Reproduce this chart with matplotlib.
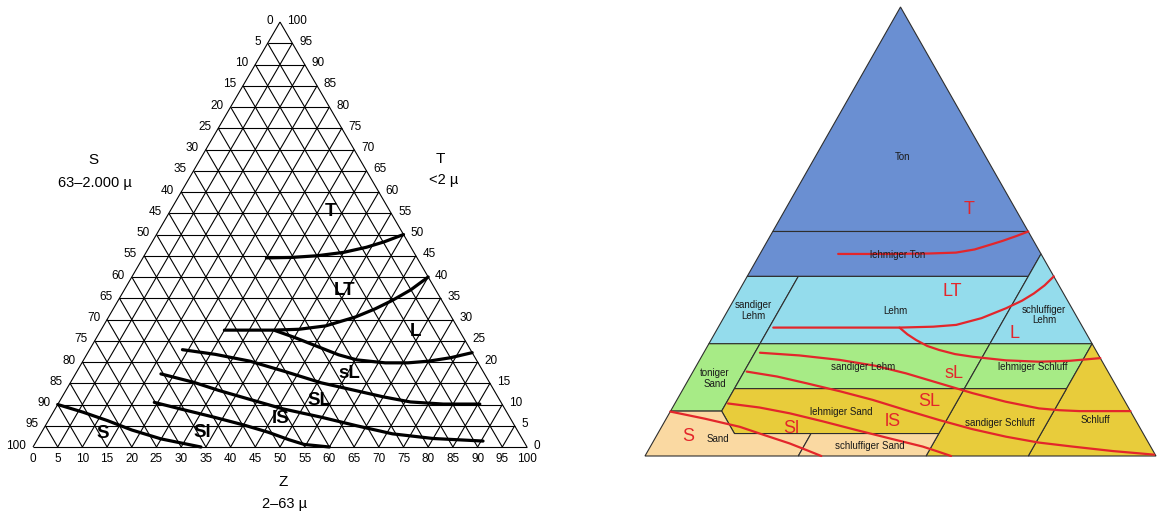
import numpy as np
import matplotlib
matplotlib.use('Agg')
import matplotlib.pyplot as plt
from matplotlib.patches import Polygon

plt.rcParams['font.family'] = ['Liberation Sans', 'DejaVu Sans']

# ---------------- DATA (ternary coords: z = Schluff %, t = Ton %) ----------------
TICKS = list(range(0, 101, 5))

# left triangle: black class boundaries
CURVE_T_LT = [(25, 44.5), (30, 44.6), (35, 45), (40, 45.8), (44, 47), (47, 48.3), (50, 50)]
CURVE_LT_L = [(25, 27.5), (30, 27.5), (35, 27.5), (40, 27.7), (45, 28.5), (50, 30.6),
              (53, 32.5), (55.5, 34.5), (58, 37), (60, 40)]
CURVE_L_SL = [(35.3, 27.4), (40, 25.8), (46.7, 23.3), (51, 21.7), (55.3, 20.5), (61.4, 19.8),
              (66, 19.8), (70, 20.2), (74, 21), (77.8, 22.2)]
CURVE_SL_SL2 = [(18.8, 22.9), (26, 21.8), (33.8, 20.2), (42, 17.8), (50.8, 15.1), (59, 13.2),
                (65, 11.8), (71.1, 10.6), (78, 10.1), (85.4, 10.1)]
CURVE_SL_LS = [(17.3, 17.2), (25, 15.2), (31, 13.3), (38.3, 11.2), (46, 9), (54.9, 7),
               (63, 5), (71.2, 3.1), (80, 2), (90.4, 1.4)]
CURVE_LS_SL = [(19.3, 10.5), (26, 8.8), (33.2, 7), (40, 5.2), (45.8, 3.5), (51, 1.7),
               (54.6, 0.6), (60, 0)]
CURVE_SL_S = [(0, 10), (6, 8.2), (12, 6.2), (18, 4), (25, 1.9), (34, 0)]
LEFT_CURVES = [CURVE_T_LT, CURVE_LT_L, CURVE_L_SL, CURVE_SL_SL2, CURVE_SL_LS, CURVE_LS_SL, CURVE_SL_S]

LEFT_LABELS = ['T', 'LT', 'L', 'sL', 'SL', 'lS', 'Sl', 'S']
LEFT_LABEL_POS = [(32.5, 55.5), (44.6, 36.8), (63.9, 27.1), (55.4, 17.4), (52.6, 10.9),
                  (46.8, 6.6), (32.5, 3.5), (12.5, 3.1)]

# right triangle: coloured fields
FIELDS = {
    'Ton': [(0, 50), (50, 50), (0, 100)],
    'lehmiger Ton': [(0, 40), (55, 40), (55, 45), (50, 50), (0, 50)],
    'sandiger Lehm 1': [(0, 25), (10, 25), (10, 40), (0, 40)],
    'Lehm': [(10, 25), (55, 25), (55, 40), (10, 40)],
    'schluffiger Lehm': [(55, 25), (75, 25), (55, 45)],
    'toniger Sand': [(0, 10), (10, 10), (10, 25), (0, 25)],
    'sandiger Lehm 2': [(10, 15), (55, 15), (55, 25), (10, 25)],
    'lehmiger Schluff': [(55, 15), (75, 15), (75, 25), (55, 25)],
    'Schluff': [(75, 0), (100, 0), (75, 25)],
    'sandiger Schluff': [(55, 0), (75, 0), (75, 15), (55, 15)],
    'lehmiger Sand': [(15, 5), (55, 5), (55, 15), (10, 15), (10, 10)],
    'Sand': [(0, 0), (30, 0), (30, 5), (15, 5), (10, 10), (0, 10)],
    'schluffiger Sand': [(30, 0), (55, 0), (55, 5), (30, 5)],
}
FIELD_GROUP = {
    'Ton': 'T', 'lehmiger Ton': 'T',
    'sandiger Lehm 1': 'L', 'Lehm': 'L', 'schluffiger Lehm': 'L',
    'toniger Sand': 'G', 'sandiger Lehm 2': 'G', 'lehmiger Schluff': 'G',
    'Schluff': 'Y', 'sandiger Schluff': 'Y', 'lehmiger Sand': 'Y',
    'Sand': 'P', 'schluffiger Sand': 'P',
}
FIELD_TEXT = ['Ton', 'lehmiger Ton', 'sandiger\nLehm', 'Lehm', 'schluffiger\nLehm',
              'toniger\nSand', 'sandiger Lehm', 'lehmiger Schluff', 'lehmiger Sand',
              'sandiger Schluff', 'Schluff', 'Sand', 'schluffiger Sand']
FIELD_TEXT_POS = [(17.2, 66.5), (27.1, 44.8), (5.0, 32.4), (32.8, 32.4), (62.4, 31.4),
                  (5.0, 17.3), (32.7, 19.9), (65.9, 19.9), (33.5, 9.9),
                  (65.7, 7.3), (84.2, 8.0), (12.5, 3.7), (42.8, 2.2)]

# right triangle: red class boundaries
R_T_LT = [(15.3, 45), (25, 45), (33, 45.1), (38.2, 45.3), (41.5, 46), (43.9, 47),
          (46, 47.9), (48.2, 49), (50, 50)]
R_LT_L = [(10.8, 28.6), (20, 28.6), (35.5, 28.6), (42, 28.8), (46.3, 29.2), (50.5, 30.7),
          (54.2, 32.9), (56.5, 34.6), (58, 36.2), (59.2, 38), (60, 40)]
R_L_SL = [(35.5, 28.6), (37.8, 27.1), (40.2, 25.8), (43, 24.5), (45.8, 23.6), (49.3, 22.7),
          (53.1, 22.1), (60, 21.3), (66.6, 21), (72.5, 21.2), (78.2, 21.8)]
R_SL_SL2 = [(11, 23), (19, 22.4), (27.4, 21.4), (35, 20.1), (41.9, 18.4), (49.5, 16.2),
            (57.1, 14), (64.5, 12.1), (71.8, 10.6), (76, 10.2), (80, 10), (90, 10)]
R_SL_LS = [(10.5, 18.8), (17, 17.7), (23.5, 16.2), (31, 14.4), (38.3, 12.5), (46, 10.2),
           (53.6, 8), (61, 6), (68.5, 4.3), (75.5, 3), (82.6, 2.1), (91, 1.1), (99.5, 0.3)]
R_LS_SL = [(10.4, 11.7), (17, 10.8), (23.6, 9.5), (31, 7.7), (38.4, 5.8), (46, 3.9),
           (53.3, 2.1), (56.8, 1), (59.9, 0)]
R_SL_S = [(0, 9.9), (7.6, 8.3), (15.3, 6.5), (21.2, 4.6), (26.9, 2.8), (31, 1.3), (34.5, 0)]
RIGHT_CURVES = [R_T_LT, R_LT_L, R_L_SL, R_SL_SL2, R_SL_LS, R_LS_SL, R_SL_S]

RIGHT_LABEL_POS = [(36.1, 54.8), (41.9, 36.6), (58.6, 27.3), (51.3, 18.4), (49.6, 12.1),
                   (44.7, 7.6), (25.5, 6.2), (6.3, 4.3)]

# ---------------- STYLE ----------------
COLORS = {'T': '#6a8fd2', 'L': '#94dcec', 'G': '#a7eb86', 'Y': '#e8cc3b', 'P': '#fad9a2'}
RED = '#e3262b'


def tern(pts):
    a = np.asarray(pts, float)
    return a[:, 0] + a[:, 1] / 2.0, a[:, 1]


W, H = 1157, 515
fig = plt.figure(figsize=(W / 100, H / 100), dpi=100)

# ---------------- left triangle ----------------
ax1 = fig.add_axes([33 / W, (H - 447) / H, 494 / W, 425 / H])
ax1.set_xlim(0, 100)
ax1.set_ylim(0, 100)
ax1.axis('off')

for k in TICKS:
    for seg in ([(0, k), (100 - k, k)], [(k, 0), (k, 100 - k)], [(100 - k, 0), (0, 100 - k)]):
        x, y = tern(seg)
        ax1.plot(x, y, color='black', lw=0.8, solid_capstyle='butt', clip_on=False)

for k in TICKS:
    x, y = tern([(0, 100 - k)])
    ax1.annotate(str(k), (x[0], y[0]), xytext=(-5, 1), textcoords='offset points',
                 ha='right', va='center', fontsize=8.5, annotation_clip=False)
    x, y = tern([(100 - k, k)])
    ax1.annotate(str(k), (x[0], y[0]), xytext=(5, 1), textcoords='offset points',
                 ha='left', va='center', fontsize=8.5, annotation_clip=False)
    x, y = tern([(k, 0)])
    ax1.annotate(str(k), (x[0], y[0]), xytext=(0, -4), textcoords='offset points',
                 ha='center', va='top', fontsize=8.5, annotation_clip=False)

for c in LEFT_CURVES:
    x, y = tern(c)
    ax1.plot(x, y, color='black', lw=2.3, solid_capstyle='round', solid_joinstyle='round',
             clip_on=False)

for lab, pos in zip(LEFT_LABELS, LEFT_LABEL_POS):
    x, y = tern([pos])
    ax1.text(x[0], y[0], lab, fontsize=13.5, fontweight='bold', ha='center', va='center')

fig.text(93 / W, 1 - 160 / H, 'S', ha='center', va='center', fontsize=11)
fig.text(95 / W, 1 - 183 / H, '63–2.000 µ', ha='center', va='center', fontsize=10.5)
fig.text(440 / W, 1 - 159 / H, 'T', ha='center', va='center', fontsize=11)
fig.text(444 / W, 1 - 180 / H, '<2 µ', ha='center', va='center', fontsize=10.5)
fig.text(283 / W, 1 - 482 / H, 'Z', ha='center', va='center', fontsize=11)
fig.text(285 / W, 1 - 504 / H, '2–63 µ', ha='center', va='center', fontsize=10.5)

# ---------------- right triangle ----------------
ax2 = fig.add_axes([645 / W, (H - 456) / H, 511 / W, 449 / H])
ax2.set_xlim(0, 100)
ax2.set_ylim(0, 100)
ax2.axis('off')

for name, pts in FIELDS.items():
    x, y = tern(pts)
    ax2.add_patch(Polygon(np.column_stack([x, y]), closed=True,
                          facecolor=COLORS[FIELD_GROUP[name]], edgecolor='#2e2e2e',
                          lw=0.8, clip_on=False))

for c in RIGHT_CURVES:
    x, y = tern(c)
    ax2.plot(x, y, color=RED, lw=1.6, solid_capstyle='round', solid_joinstyle='round',
             clip_on=False)

for txt, pos in zip(FIELD_TEXT, FIELD_TEXT_POS):
    x, y = tern([pos])
    ax2.text(x[0], y[0], txt, fontsize=7, ha='center', va='center', color='#1a1a1a',
             linespacing=1.1)

for lab, pos in zip(LEFT_LABELS, RIGHT_LABEL_POS):
    x, y = tern([pos])
    ax2.text(x[0], y[0], lab, fontsize=13, ha='center', va='center', color=RED)

fig.savefig('out.png', dpi=100)
